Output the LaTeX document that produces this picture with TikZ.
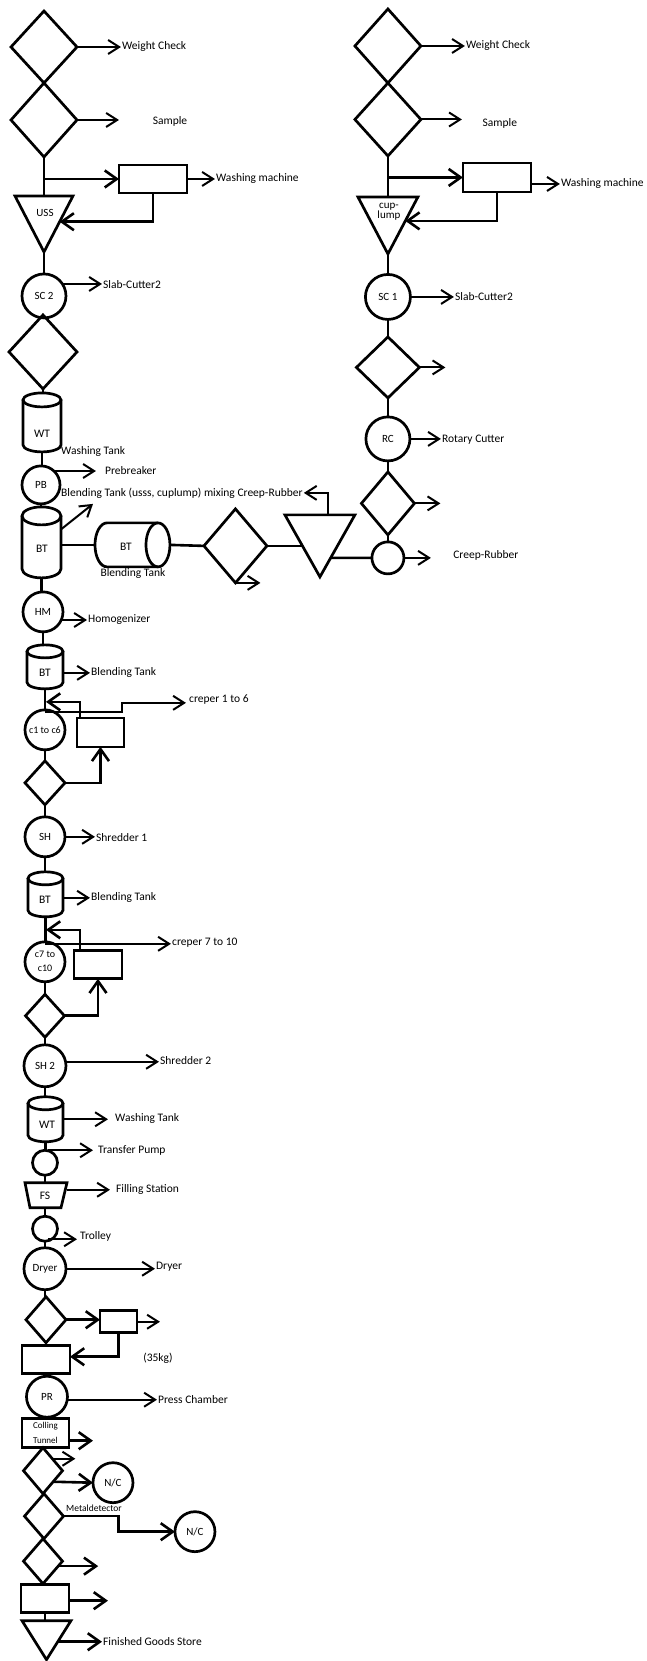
\documentclass[tikz,border=0pt]{standalone}
\usepackage{fontspec}
\setmainfont{Carlito}
\usetikzlibrary{shapes.geometric,arrows.meta,calc}
\newcommand\vcyl[3]{%
  \draw[shp] ([yshift=-#3]#1.north) ellipse[x radius=#2, y radius=#3];
  \draw[shp] ([yshift=-#3]#1.north west) -- ([yshift=#3]#1.south west)
     arc[start angle=180, end angle=360, x radius=#2, y radius=#3]
     -- ([yshift=-#3]#1.north east);}
\begin{document}
\begin{tikzpicture}[x=1pt,y=-1pt,
  shp/.style={draw, line width=2.7pt, line join=miter},
  dia/.style={diamond, shp, inner sep=0pt, outer sep=0pt},
  cir/.style={circle, shp, inner sep=0pt, outer sep=0pt, font=\fontsize{11}{12}\selectfont},
  rct/.style={rectangle, shp, inner sep=0pt, outer sep=0pt},
  box/.style={rectangle, draw=none, inner sep=0pt, outer sep=0pt},
  lbl/.style={inner sep=1pt, font=\fontsize{11.5}{13}\selectfont},
  thk/.style={line width=2.6pt},
  arr/.style={line width=2pt, -{Straight Barb[length=11pt, width=14pt]}},
  arrt/.style={line width=2.6pt, -{Straight Barb[length=12pt, width=17pt]}},
]
\fill[white] (0,0) rectangle (647,1661);

% ---------------- left column top
\node[dia, minimum width=66pt, minimum height=72pt] (d1) at (44,47) {};
\node[dia, minimum width=66pt, minimum height=74pt] (d2) at (44,120) {};
\node[lbl, anchor=west] (t1) at (121,47) {Weight Check};
\draw[arr] (d1.east) -- (d1.east -| t1.west);
\draw[arr] (d2.east) -- ++(42,0);
\node[lbl] (t2) at (170,121) {Sample};
\node[rct, minimum width=68pt, minimum height=28pt] (wm1) at (153,179) {};
\node[box, minimum width=58pt, minimum height=56pt] (uss) at (44,224) {};
\draw[shp] (uss.north west) -- (uss.north east) -- (uss.south) -- cycle;
\node[lbl, font=\fontsize{11}{12}\selectfont] (usst) at (45,213) {USS};
\draw[thk] (d2.south) -- (uss.north);
\draw[arrt] (d2.south |- wm1.west) -- (wm1.west);
\node[lbl, anchor=west] (t3) at (215,179) {Washing machine};
\draw[arr] (wm1.east) -- (wm1.east -| t3.west);
\draw[arrt] (wm1.south) |- ($(uss.north east)!0.46!(uss.south)$);

\node[cir, minimum size=44pt] (sc2) at (44,296) {SC 2};
\draw[thk] (uss.south) -- (sc2.north);
\node[lbl, anchor=west] (t4) at (102,285) {Slab-Cutter2};
\draw[arr] (sc2.33) -- (sc2.33 -| t4.west);

\node[dia, minimum width=68pt, minimum height=74pt] (d3) at (43,352) {};
\draw[thk] (sc2.south) -- (sc2.south |- d3.north);

\node[box, minimum width=38pt, minimum height=59pt] (wt1) at (42,422.5) {};
\vcyl{wt1}{19pt}{7pt}
\node[lbl] (wt1t) at (42,434) {WT};
\draw[thk] (d3.south) -- (d3.south |- wt1.north);
\node[lbl, anchor=west] (t5) at (60,452) {Washing Tank};

\node[cir, minimum size=38pt] (pb) at (41,485) {PB};
\draw[thk] (wt1.south) -- (wt1.south |- pb.north);
\node[lbl, anchor=west] (t6) at (104,471) {Prebreaker};
\draw[arr] (pb.47) -- ++(42,0);

\node[box, minimum width=39pt, minimum height=71pt] (bt1) at (41.5,542.5) {};
\vcyl{bt1}{19.5pt}{9pt}
\node[lbl] (bt1t) at (42,549) {BT};
\draw[thk] (pb.south) -- (pb.south |- bt1.north);
\node[lbl, anchor=west] (t7) at (60,493) {Blending Tank (usss, cuplump) mixing Creep-Rubber};
\draw[arr] ([yshift=13pt]bt1.east) -- (93,504);

% horizontal blending tank
\node[box, minimum width=75pt, minimum height=44pt] (bt2) at (132.5,545) {};
\draw[shp] ([xshift=-12pt]bt2.east) ellipse[x radius=12pt, y radius=22pt];
\draw[shp] ([xshift=-12pt]bt2.north east) -- ([xshift=12pt]bt2.north west)
   arc[start angle=90, end angle=270, x radius=12pt, y radius=22pt] -- ([xshift=-12pt]bt2.south east);
\node[lbl] (bt2t) at (126,547) {BT};
\node[lbl] (t8) at (133,574) {Blending Tank};
\draw[thk] (bt2.west -| bt1.east) -- (bt2.west);

\node[dia, minimum width=63pt, minimum height=74pt] (d4) at (235.5,546) {};
\draw[thk] (bt2.east) -- (d4.west);
\draw[arr] (d4.south) -- ++(25,0);
\node[box, minimum width=70pt, minimum height=62pt] (tri2) at (320,546) {};
\draw[shp] (tri2.north west) -- (tri2.north east) -- (tri2.south) -- cycle;
\draw[thk] (d4.east) -- ($(tri2.north west)!0.5!(tri2.south)$);
\draw[arr] ([xshift=8pt]tri2.north) |- (t7.east);
\node[cir, minimum size=32pt] (cr) at (388,558) {};
\draw[thk] ($(tri2.north east)!0.694!(tri2.south)$) -- (cr.west);
\draw[arr] (cr.east) -- ++(27,0);
\node[lbl] (t9) at (486,556) {Creep-Rubber};

% ---------------- right column
\node[dia, minimum width=66pt, minimum height=74pt] (rd1) at (388,46) {};
\node[dia, minimum width=66pt, minimum height=73pt] (rd2) at (388,119.5) {};
\node[lbl, anchor=west] (t10) at (465,46) {Weight Check};
\draw[arr] (rd1.east) -- (rd1.east -| t10.west);
\draw[arr] (rd2.east) -- ++(41,0);
\node[lbl] (t11) at (500,123) {Sample};
\node[rct, minimum width=68pt, minimum height=29pt] (wm2) at (497,177.5) {};
\node[box, minimum width=60pt, minimum height=57pt] (cup) at (388,225.5) {};
\draw[shp] (cup.north west) -- (cup.north east) -- (cup.south) -- cycle;
\node[font=\fontsize{11}{10}\selectfont, align=center, inner sep=0pt] (cupt) at (389,212) {cup-\\lump};
\draw[thk] (rd2.south) -- (cup.north);
\draw[arrt] (rd2.south |- wm2.west) -- (wm2.west);
\node[lbl, anchor=west] (t12) at (560,184) {Washing machine};
\draw[arr] ([yshift=-6.5pt]wm2.east) -- ([yshift=-6.5pt]wm2.east -| t12.west);
\draw[arrt] (wm2.south) |- ($(cup.north east)!0.42!(cup.south)$);

\node[cir, minimum size=45pt] (sc1) at (388,297) {SC 1};
\draw[thk] (cup.south) -- (sc1.north);
\node[lbl, anchor=west] (t13) at (454,297) {Slab-Cutter2};
\draw[arr] (sc1.east) -- (sc1.east -| t13.west);
\node[dia, minimum width=63pt, minimum height=61pt] (rd3) at (388,367.5) {};
\draw[thk] (sc1.south) -- (rd3.north);
\draw[arr] (rd3.east) -- ++(26,0);
\node[cir, minimum size=44pt] (rc) at (388,439) {RC};
\draw[thk] (rd3.south) -- (rc.north);
\node[lbl, anchor=west] (t14) at (441,440) {Rotary Cutter};
\draw[arr] (rc.east) -- (rc.east -| t14.west);
\node[dia, minimum width=53pt, minimum height=63pt] (rd4) at (388,503.5) {};
\draw[thk] (rc.south) -- (rd4.north);
\draw[arr] (rd4.east) -- ++(26,0);
\draw[thk] (rd4.south) -- (cr.north);

% ---------------- left column continued
\node[cir, minimum size=40pt] (hm) at (43,612) {HM};
\draw[thk] (bt1.south) -- (bt1.south |- hm.north);
\node[lbl, anchor=west] (t15) at (87,620) {Homogenizer};
\draw[arr] (hm.-24) -- (hm.-24 -| t15.west);

\node[box, minimum width=36pt, minimum height=44pt] (bt3) at (45,667) {};
\vcyl{bt3}{18pt}{6.5pt}
\node[lbl] (bt3t) at (45,673) {BT};
\draw[thk] (hm.south) -- (hm.south |- bt3.north);
\node[lbl, anchor=west] (t16) at (90,673) {Blending Tank};
\draw[arr] ([yshift=-6pt]bt3.east) -- ([yshift=-6pt]bt3.east -| t16.west);

\node[cir, minimum size=40pt, font=\fontsize{10}{11}\selectfont] (c16) at (45,730) {c1 to c6};
\draw[thk] (bt3.south) -- (c16.north);
\coordinate (j1) at (46,702);
\node[rct, minimum width=47pt, minimum height=29pt] (rc16) at (100.5,732.5) {};
\draw[arrt] ([xshift=3pt]rc16.north west) |- (j1);
\node[lbl, anchor=west] (t17) at (188,700) {creper 1 to 6};
\draw[arr] ([yshift=-2pt]c16.north) -| (122,703) -- (186,703);

\node[dia, minimum width=40pt, minimum height=44pt] (d5) at (45,783) {};
\draw[thk] (c16.south) -- (d5.north);
\draw[arrt] (d5.east) -| (rc16.south);

\node[cir, minimum size=40pt] (sh1) at (45,837) {SH};
\draw[thk] (d5.south) -- (sh1.north);
\node[lbl, anchor=west] (t18) at (95,838) {Shredder 1};
\draw[arr] (sh1.east) -- (sh1.east -| t18.west);

\node[box, minimum width=35pt, minimum height=45pt] (bt4) at (45.5,894.5) {};
\vcyl{bt4}{17.5pt}{6.5pt}
\node[lbl] (bt4t) at (45,900) {BT};
\draw[thk] (sh1.south) -- (sh1.south |- bt4.north);
\node[lbl, anchor=west] (t19) at (90,898) {Blending Tank};
\draw[arr] ([yshift=-3.5pt]bt4.east) -- ([yshift=-3.5pt]bt4.east -| t19.west);

\node[cir, minimum size=40pt, font=\fontsize{10}{14}\selectfont, align=center] (c710) at (45,962) {c7 to\\c10};
\draw[thk] (bt4.south) -- (bt4.south |- c710.north);
\coordinate (j2) at (46,930);
\node[rct, minimum width=48pt, minimum height=28pt] (rc710) at (98,965) {};
\draw[arrt] ([xshift=6pt]rc710.north west) |- (j2);
\node[lbl, anchor=west] (t20) at (171,943) {creper 7 to 10};
\draw[arr] ([yshift=-2pt]c710.north) -- ([yshift=-2pt]c710.north -| t20.west);

\node[dia, minimum width=39pt, minimum height=43pt] (d6) at (45,1016) {};
\draw[thk] (c710.south) -- (d6.north);
\draw[arrt] (d6.east) -| (rc710.south);

\node[cir, minimum size=42pt] (sh2) at (45,1066) {SH 2};
\draw[thk] (d6.south) -- (sh2.north);
\node[lbl, anchor=west] (t21) at (159,1061) {Shredder 2};
\draw[arr] (sh2.11) -- (sh2.11 -| t21.west);

\node[box, minimum width=35pt, minimum height=45pt] (wt2) at (45.5,1119.5) {};
\vcyl{wt2}{17.5pt}{6.5pt}
\node[lbl] (wt2t) at (47,1125) {WT};
\draw[thk] (sh2.south) -- (sh2.south |- wt2.north);
\node[lbl, anchor=west] (t22) at (114,1119) {Washing Tank};
\draw[arr] (wt2.east) -- ++(45,0);

\node[cir, minimum size=25pt] (tp) at (45,1163) {};
\draw[thk] (wt2.south) -- (wt2.south |- tp.north);
\draw[arr] ([xshift=3pt]tp.north) -- ++(45,0);
\node[lbl, anchor=west] (t23) at (97,1151) {Transfer Pump};

\node[box, minimum width=42pt, minimum height=25pt] (fs) at (46,1195.5) {};
\draw[shp] (fs.north west) -- (fs.north east) -- ([xshift=-6pt]fs.south east) -- ([xshift=5pt]fs.south west) -- cycle;
\node[lbl] (fst) at (45,1196) {FS};
\draw[thk] (tp.south) -- (tp.south |- fs.north);
\draw[arr] ([yshift=5.5pt]fs.east) -- ++(43,0);
\node[lbl, anchor=west] (t24) at (115,1190) {Filling Station};

\node[cir, minimum size=25pt] (tr) at (45,1229) {};
\draw[thk] (tr.north |- fs.south) -- (tr.north);
\draw[arr] ([xshift=3pt,yshift=2pt]tr.south) -- ++(29,0);
\node[lbl, anchor=west] (t25) at (79,1237) {Trolley};

\node[cir, minimum size=42pt] (dry) at (45,1269) {Dryer};
\draw[thk] (tr.south) -- (dry.north);
\node[lbl, anchor=west] (t26) at (155,1267) {Dryer};
\draw[arr] (dry.east) -- (dry.east -| t26.west);

\node[dia, minimum width=40pt, minimum height=46pt] (d7) at (46,1320) {};
\draw[thk] (dry.south) -- (dry.south |- d7.north);
\node[rct, minimum width=37pt, minimum height=22pt] (r35s) at (118.5,1322) {};
\draw[arrt] (d7.east) -- (d7.east -| r35s.west);
\draw[arr] (r35s.east) -- ++(23,0);
\node[rct, minimum width=48pt, minimum height=28pt] (r35) at (46,1360) {};
\draw[thk] (d7.south) -- (r35.north);
\draw[arrt] (r35s.south) |- ([yshift=3pt]r35.east);
\node[lbl] (t27) at (158,1359) {(35kg)};

\node[cir, minimum size=41pt] (pr) at (47,1397) {PR};
\draw[thk] (pr.north |- r35.south) -- (pr.north);
\node[lbl, anchor=west] (t28) at (157,1400) {Press Chamber};
\draw[arr] ([yshift=-3pt]pr.east) -- ([yshift=-3pt]pr.east -| t28.west);

\node[rct, minimum width=47pt, minimum height=29pt, font=\fontsize{9}{15}\selectfont, align=center] (ct) at (45.5,1433.5) {Colling\\Tunnel};
\draw[thk] (pr.south) -- (pr.south |- ct.north);
\draw[arrt] ([yshift=-7.5pt]ct.east) -- ++(24,0);

\node[dia, minimum width=39pt, minimum height=46pt] (d8) at (43,1471) {};
\draw[arr] ($(d8.east)!0.52!(d8.north)$) -- ++(23,0);
\node[cir, minimum size=40pt] (nc1) at (113,1483) {N/C};
\draw[arrt] ($(d8.east)!0.48!(d8.south)$) -- (nc1.west);

\node[dia, minimum width=39pt, minimum height=45pt] (d9) at (44,1516.5) {};
\node[lbl, font=\fontsize{9.5}{11}\selectfont] (t29) at (94,1509) {Metaldetector};
\node[cir, minimum size=40pt] (nc2) at (195,1532) {N/C};
\draw[arrt] (d9.east) -- ++(55,0) |- (nc2.west);

\node[dia, minimum width=39pt, minimum height=45pt] (d10) at (43,1561.5) {};
\draw[arrt] ($(d10.east)!0.22!(d10.south)$) -- ++(40,0);
\node[rct, minimum width=48pt, minimum height=28pt] (rl) at (45,1599) {};
\draw[thk] (d10.south) -- (d10.south |- rl.north);
\draw[arrt] ([yshift=-2pt]rl.east) -- ++(39,0);
\node[box, minimum width=49pt, minimum height=39pt] (fgs) at (46.5,1640.5) {};
\draw[shp] (fgs.north west) -- (fgs.north east) -- (fgs.south) -- cycle;
\draw[thk] (rl.south) -- (rl.south |- fgs.north);
\node[lbl, anchor=west] (t30) at (102,1642) {Finished Goods Store};
\coordinate (fgsr) at ($(fgs.north east)!0.54!(fgs.south)$);
\draw[arrt] (fgsr) -- (fgsr -| t30.west);
\end{tikzpicture}
\end{document}
